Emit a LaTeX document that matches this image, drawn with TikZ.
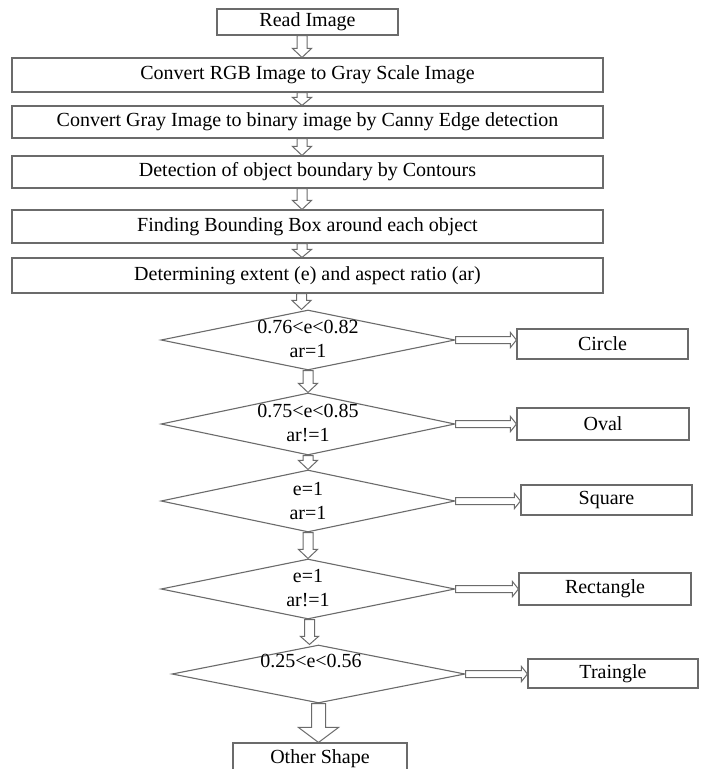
\documentclass[tikz,border=0pt]{standalone}
\usepackage{fontspec}
\setmainfont{Liberation Serif}
\usetikzlibrary{shapes.geometric,calc}
\tikzset{
 boxnode/.style={draw=black!58, line width=1.1pt, inner sep=0pt, font=\fontsize{20}{24}\selectfont, text=black},
 decision/.style={diamond, draw=black!58, line width=1.1pt, inner sep=0pt},
 dtext/.style={inner sep=0pt, font=\fontsize{20}{24}\selectfont, text=black},
 fatarrow/.style={draw=black!58, line width=1pt, fill=white, line join=miter},
}
\newcommand\vfat[5]{\draw[fatarrow] let \p1=(#1), \p2=(#2) in (\x1-#3,\y1) -- (\x1-#3,\y2+#5) -- (\x1-#4,\y2+#5) -- (\x1,\y2) -- (\x1+#4,\y2+#5) -- (\x1+#3,\y2+#5) -- (\x1+#3,\y1) -- cycle;}
\newcommand\hfat[5]{\draw[fatarrow] let \p1=(#1), \p2=(#2) in (\x1,\y1-#3) -- (\x2-#5,\y1-#3) -- (\x2-#5,\y1-#4) -- (\x2,\y1) -- (\x2-#5,\y1+#4) -- (\x2-#5,\y1+#3) -- (\x1,\y1+#3) -- cycle;}
\begin{document}
\begin{tikzpicture}[x=1pt,y=-1pt]
\useasboundingbox[fill=white] (0,0) rectangle (703,769);
% process boxes
\node[boxnode, minimum width=181pt, minimum height=26pt] (r0) at (307.5,22) {Read Image};
\node[boxnode, minimum width=591pt, minimum height=34pt] (b1) at (307.5,75) {Convert RGB Image to Gray Scale Image};
\node[boxnode, minimum width=591pt, minimum height=32pt] (b2) at (307.5,122) {Convert Gray Image to binary image by Canny Edge detection};
\node[boxnode, minimum width=591pt, minimum height=32pt] (b3) at (307.5,172) {Detection of object boundary by Contours};
\node[boxnode, minimum width=591pt, minimum height=33pt] (b4) at (307.5,226.5) {Finding Bounding Box around each object};
\node[boxnode, minimum width=591pt, minimum height=35pt] (b5) at (307.5,275.5) {Determining extent (e) and aspect ratio (ar)};
% decisions
\node[decision, minimum width=294pt, minimum height=60pt] (d1) at (308,340) {};
\node[decision, minimum width=294pt, minimum height=62pt] (d2) at (308,424) {};
\node[decision, minimum width=294pt, minimum height=62pt] (d3) at (308,501) {};
\node[decision, minimum width=294pt, minimum height=60pt] (d4) at (308,589) {};
\node[decision, minimum width=293pt, minimum height=58pt] (d5) at (318.5,674) {};
\node[dtext] (d1a) at (308,327) {0.76<e<0.82};
\node[dtext] (d1b) at (308,351) {ar=1};
\node[dtext] (d2a) at (308,411) {0.75<e<0.85};
\node[dtext] (d2b) at (308,435) {ar!=1};
\node[dtext] (d3a) at (308,489) {e=1};
\node[dtext] (d3b) at (308,513) {ar=1};
\node[dtext] (d4a) at (308,576) {e=1};
\node[dtext] (d4b) at (308,600) {ar!=1};
\node[dtext] (d5a) at (311,661) {0.25<e<0.56};
% result boxes
\node[boxnode, minimum width=171pt, minimum height=30pt] (circle) at (602.5,344) {Circle};
\node[boxnode, minimum width=172pt, minimum height=32pt] (oval) at (603,424) {Oval};
\node[boxnode, minimum width=171pt, minimum height=30pt] (square) at (606.5,500) {Square};
\node[boxnode, minimum width=172pt, minimum height=32pt] (rect) at (605,589) {Rectangle};
\node[boxnode, minimum width=170pt, minimum height=29pt] (tri) at (613,673.5) {Traingle};
\node[boxnode, minimum width=174pt, minimum height=32pt] (other) at (320,759) {Other Shape};
% vertical arrows
\vfat{[xshift=-5.5pt]r0.south}{b1.north}{5pt}{9.5pt}{9pt}
\vfat{[xshift=-5.5pt]b1.south}{b2.north}{5pt}{9.5pt}{8pt}
\vfat{[xshift=-5.5pt]b2.south}{b3.north}{5pt}{9.5pt}{9pt}
\vfat{[xshift=-5.5pt]b3.south}{b4.north}{5pt}{9.5pt}{9pt}
\vfat{[xshift=-5.5pt]b4.south}{b5.north}{5pt}{9.5pt}{8pt}
\vfat{[xshift=-6pt]b5.south}{d1.north}{5pt}{9.5pt}{9pt}
\vfat{d1.south}{d2.north}{5pt}{9.5pt}{9pt}
\vfat{d2.south}{d3.north}{5pt}{9.5pt}{9pt}
\vfat{d3.south}{d4.north}{5pt}{9.5pt}{9pt}
\vfat{[xshift=1.5pt]d4.south}{d5.north}{5pt}{9pt}{8pt}
\vfat{d5.south}{other.north}{7pt}{20pt}{15pt}
% horizontal arrows
\hfat{d1.east}{circle.west}{3.5pt}{7.5pt}{6pt}
\hfat{d2.east}{oval.west}{3.5pt}{7.5pt}{6pt}
\hfat{d3.east}{square.west}{3.5pt}{7.5pt}{6pt}
\hfat{d4.east}{rect.west}{3.5pt}{7.5pt}{6pt}
\hfat{d5.east}{tri.west}{3.5pt}{7.5pt}{6pt}
\end{tikzpicture}
\end{document}
